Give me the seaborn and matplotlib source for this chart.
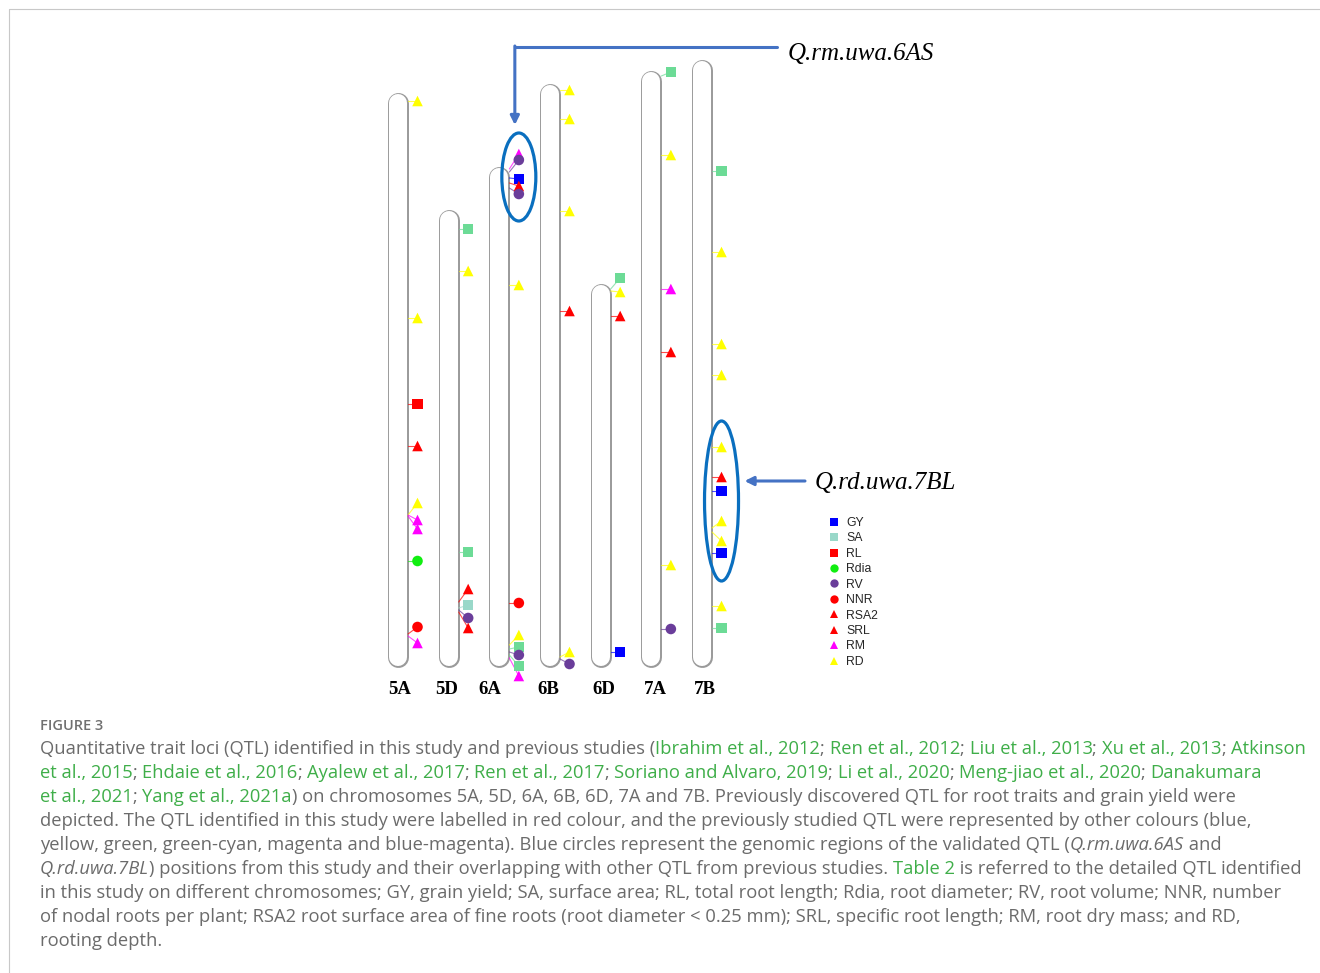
import matplotlib
matplotlib.use("Agg")
import matplotlib.pyplot as plt
from matplotlib.lines import Line2D
from matplotlib.patches import Ellipse
import pandas as pd
import seaborn as sns

sns.set_theme(style="white")
plt.rcParams["font.family"] = ["Liberation Sans", "DejaVu Sans"]

# chromosomes (map positions, top of page = 0)
CHROMS = ["5A", "5D", "6A", "6B", "6D", "7A", "7B"]
CHROM_TOP = [92, 209, 166, 83, 283, 70, 59]
CHROM_END = [667, 667, 667, 667, 667, 667, 667]

# QTL: chromosome, trait, marker position, locus on the chromosome
QTL_CHROM = (["5A"] * 10 + ["5D"] * 7 + ["6A"] * 12 + ["6B"] * 6
             + ["6D"] * 4 + ["7A"] * 6 + ["7B"] * 12)
QTL_TRAIT = [
    "RD", "RD", "RL", "SRL", "RD", "RM", "RM", "Rdia", "NNR", "RM",
    "SA*", "RD", "SA*", "RSA2", "SA", "RV", "SRL",
    "RM", "RV", "GY", "SRL", "RV", "RD", "NNR", "RD", "SA*", "RV", "SA*", "RM",
    "RD", "RD", "RD", "RSA2", "RD", "RV",
    "SA*", "RD", "SRL", "GY",
    "SA*", "RD", "RM", "RSA2", "RD", "RV",
    "SA*", "RD", "RD", "RD", "RD", "SRL", "GY", "RD", "RD", "GY", "RD", "SA*",
]
QTL_POS = [
    101, 318, 404, 446, 503, 520, 529, 561, 627, 643,
    229, 271, 552, 589, 605, 618, 628,
    154, 160, 179, 186, 194, 285, 603, 635, 647, 655, 666, 676,
    90, 119, 211, 311, 652, 664,
    278, 292, 316, 652,
    72, 155, 289, 352, 565, 629,
    171, 252, 344, 375, 447, 477, 491, 521, 541, 553, 606, 628,
]
QTL_LOCUS = [
    101, 318, 404, 446, 515, 515, 516, 561, 634, 636,
    229, 271, 552, 602, 608, 610, 612,
    169, 172, 178, 183, 188, 285, 603, 645, 649, 652, 655, 658,
    90, 119, 211, 311, 657, 659,
    289, 291, 316, 652,
    76, 155, 289, 352, 565, 629,
    171, 252, 344, 375, 447, 477, 491, 528, 532, 553, 606, 628,
]

LEGEND_TRAITS = ["GY", "SA", "RL", "Rdia", "RV", "NNR", "RSA2", "SRL", "RM", "RD"]
PALETTE = {"GY": "#0000ff", "SA": "#99d8c9", "SA*": "#6cdb96", "RL": "#ff0000",
           "Rdia": "#11ee11", "RV": "#6a3d9a", "NNR": "#ff0000", "RSA2": "#ff0000",
           "SRL": "#ff0000", "RM": "#ff00ff", "RD": "#ffff00"}
MARKERS = {"GY": "s", "SA": "s", "SA*": "s", "RL": "s", "Rdia": "o", "RV": "o",
           "NNR": "o", "RSA2": "^", "SRL": "^", "RM": "^", "RD": "^"}

# validated QTL regions (chromosome, start, end, name)
REGIONS = [("6A", 133, 221, "Q.rm.uwa.6AS"), ("7B", 421, 581, "Q.rd.uwa.7BL")]

CAPTION = [
    [("Quantitative trait loci (QTL) identified in this study and previous studies (", "t"),
     ("Ibrahim et al., 2012", "g"), ("; ", "t"), ("Ren et al., 2012", "g"), ("; ", "t"),
     ("Liu et al., 2013", "g"), ("; ", "t"), ("Xu et al., 2013", "g"), ("; ", "t"),
     ("Atkinson", "g")],
    [("et al., 2015", "g"), ("; ", "t"), ("Ehdaie et al., 2016", "g"), ("; ", "t"),
     ("Ayalew et al., 2017", "g"), ("; ", "t"), ("Ren et al., 2017", "g"), ("; ", "t"),
     ("Soriano and Alvaro, 2019", "g"), ("; ", "t"), ("Li et al., 2020", "g"), ("; ", "t"),
     ("Meng-jiao et al., 2020", "g"), ("; ", "t"), ("Danakumara", "g")],
    [("et al., 2021", "g"), ("; ", "t"), ("Yang et al., 2021a", "g"),
     (") on chromosomes 5A, 5D, 6A, 6B, 6D, 7A and 7B. Previously discovered QTL for root traits and grain yield were", "t")],
    [("depicted. The QTL identified in this study were labelled in red colour, and the previously studied QTL were represented by other colours (blue,", "t")],
    [("yellow, green, green-cyan, magenta and blue-magenta). Blue circles represent the genomic regions of the validated QTL (", "t"),
     ("Q.rm.uwa.6AS", "i"), (" and", "t")],
    [("Q.rd.uwa.7BL", "i"), (") positions from this study and their overlapping with other QTL from previous studies. ", "t"),
     ("Table 2", "g"), (" is referred to the detailed QTL identified", "t")],
    [("in this study on different chromosomes; GY, grain yield; SA, surface area; RL, total root length; Rdia, root diameter; RV, root volume; NNR, number", "t")],
    [("of nodal roots per plant; RSA2 root surface area of fine roots (root diameter < 0.25 mm); SRL, specific root length; RM, root dry mass; and RD,", "t")],
    [("rooting depth.", "t")],
]

W, H = 1320, 973
STEP = 50.67          # px between chromosomes
X0 = 398              # px of first chromosome
px = 1 / STEP
MARK_DX = 19.5 * px
HALF_W = 10 * px
LABEL_NUDGE = [2, -2, -10, -2, 3, 4, 3]   # px, chromosome name placement
GREY = "#9a9a9a"
ARROW_C = "#4472c4"
RING_C = "#0a6fbf"
SERIF = ["Liberation Serif", "DejaVu Serif"]


def dx(x_px):
    return (x_px - X0) / STEP


fig = plt.figure(figsize=(W / 100, H / 100), dpi=100)
ax = fig.add_axes([0, 0, 1, 1])

idx = {c: i for i, c in enumerate(CHROMS)}
df = pd.DataFrame({"chrom": QTL_CHROM, "trait": QTL_TRAIT,
                   "pos": QTL_POS, "locus": QTL_LOCUS})
df["ci"] = df["chrom"].map(idx)
df["x"] = df["ci"] + MARK_DX

# chromosome bodies: grey capsule with white inside
for i, (top, end) in enumerate(zip(CHROM_TOP, CHROM_END)):
    ax.plot([i, i], [top + 10.5, end - 10.5], color=GREY, lw=15.1,
            solid_capstyle="round", zorder=1)
    ax.plot([i, i], [top + 10.5, end - 10.5], color="white", lw=13.0,
            solid_capstyle="round", zorder=2)
    ax.text(i + LABEL_NUDGE[i] * px, 689, CHROMS[i], ha="center", va="center",
            fontsize=13.5, fontweight="bold", family=SERIF, color="black")

# connectors
for r in df.itertuples():
    ax.plot([r.ci + HALF_W, r.x], [r.locus, r.pos], color=PALETTE[r.trait],
            lw=0.8, alpha=0.7, zorder=3)

sns.scatterplot(data=df, x="x", y="pos", hue="trait", style="trait",
                palette=PALETTE, markers=MARKERS, s=58, linewidth=0,
                legend=False, ax=ax, zorder=4)

# validated QTL regions and their labels
for chrom, start, end, name in REGIONS:
    cx = idx[chrom] + MARK_DX
    ax.add_patch(Ellipse((cx, (start + end) / 2), 34 * px, end - start,
                         fill=False, ec=RING_C, lw=2.3, zorder=5))
    if chrom == "6A":
        ax_x = cx - 4 * px
        ax.plot([dx(777), ax_x], [47, 47], color=ARROW_C, lw=2.2, zorder=5)
        ax.annotate("", xy=(ax_x, start - 8), xytext=(ax_x, 46),
                    arrowprops=dict(arrowstyle="-|>", color=ARROW_C, lw=2.2,
                                    mutation_scale=13, shrinkA=0, shrinkB=0))
        ax.text(dx(788), 54, name, fontsize=18, style="italic", family=SERIF,
                ha="left", va="center", color="black")
    else:
        ymid = (start + end) / 2 - 20
        ax.annotate("", xy=(cx + 23 * px, ymid), xytext=(dx(805), ymid),
                    arrowprops=dict(arrowstyle="-|>", color=ARROW_C, lw=2.2,
                                    mutation_scale=13, shrinkA=0, shrinkB=0))
        ax.text(dx(815), ymid + 2, name, fontsize=18, style="italic",
                family=SERIF, ha="left", va="center", color="black")

handles = [Line2D([], [], marker=MARKERS[t], color=PALETTE[t], linestyle="none",
                  markersize=6, markeredgewidth=0) for t in LEGEND_TRAITS]
ax.legend(handles, LEGEND_TRAITS, loc="upper left",
          bbox_to_anchor=(829 / W, 1 - 517 / H), bbox_transform=fig.transFigure,
          frameon=False, fontsize=8.8, handlelength=0.8, handletextpad=0.6,
          labelspacing=0.28, borderpad=0, borderaxespad=0)

ax.set_xlim(-X0 / STEP, (W - X0) / STEP)
ax.set_ylim(H, 0)
ax.axis("off")

# page frame
fig.add_artist(Line2D([9 / W, 1], [1 - 9 / H, 1 - 9 / H], color="#c8c8c8", lw=0.8,
                      transform=fig.transFigure))
fig.add_artist(Line2D([9 / W, 9 / W], [1 - 9 / H, 0], color="#c8c8c8", lw=0.8,
                      transform=fig.transFigure))

# caption
CAP_FONT = ["Open Sans", "DejaVu Sans"]
TEXT_C = "#6b6b6b"
LINK_C = "#3fae49"
fig.text(40 / W, 1 - 730 / H, "FIGURE 3", fontsize=10.5, fontweight="semibold",
         family=CAP_FONT, color="#707070", va="baseline")

renderer = fig.canvas.get_renderer()


def advance(s, **kw):
    t1 = fig.text(0, 0, s + "|", **kw)
    t2 = fig.text(0, 0, "|", **kw)
    w = t1.get_window_extent(renderer).width - t2.get_window_extent(renderer).width
    t1.remove()
    t2.remove()
    return w


for n, line in enumerate(CAPTION):
    base = 754 + 24 * n
    x = 40.0
    for seg, kind in line:
        kw = dict(fontsize=13.2, family=CAP_FONT,
                  color=LINK_C if kind == "g" else TEXT_C,
                  style="italic" if kind == "i" else "normal")
        fig.text(x / W, 1 - base / H, seg, va="baseline", ha="left", **kw)
        x += advance(seg, **kw)

fig.savefig("out.png", dpi=100)
